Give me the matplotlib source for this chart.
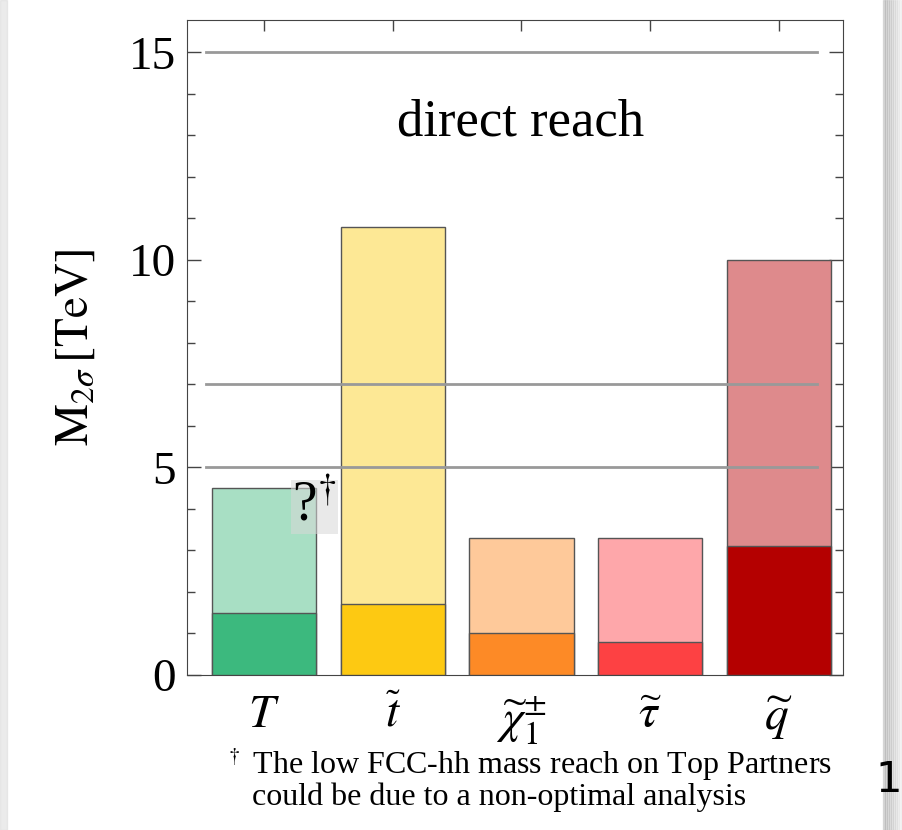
import numpy as np
import matplotlib.pyplot as plt
from matplotlib.patches import Rectangle

plt.rcParams['mathtext.fontset'] = 'stix'
plt.rcParams['font.family'] = ['Liberation Serif', 'DejaVu Serif']

particles = [r'$T$', r'$\widetilde{t}$', r'$\widetilde{\chi}_1^{\pm}$', r'$\widetilde{\tau}$', r'$\widetilde{q}$']
hl_lhc_reach = [1.5, 1.7, 1.0, 0.8, 3.1]
fcc_reach = [4.5, 10.8, 3.3, 3.3, 10.0]
light_colors = ['#a8dfc4', '#fde895', '#fec99a', '#fea7aa', '#de8a8c']
dark_colors = ['#3cb97e', '#fdc912', '#fd8a26', '#fd4143', '#b40000']
ref_lines = [15, 7, 5]

fig = plt.figure(figsize=(9.03, 8.30), dpi=100)

# slide frame with a soft shadow on the right
for i, a in enumerate(np.linspace(0.3, 0.03, 10)):
    fig.patches.append(Rectangle((0.978 + i * 0.0022, 0.0), 0.0022, 1.0, transform=fig.transFigure,
                                 color='0.6', alpha=a, zorder=0))
fig.patches.append(Rectangle((0.0, 0.0), 0.008, 1.0, transform=fig.transFigure,
                             color='0.85', alpha=0.5, zorder=0))

ax = fig.add_axes([0.207, 0.187, 0.7266, 0.789])
x = np.arange(len(particles))

ax.bar(x, fcc_reach, width=0.81, color=light_colors, edgecolor='#555555', linewidth=1, zorder=2)
ax.bar(x, hl_lhc_reach, width=0.81, color=dark_colors, edgecolor='#555555', linewidth=1, zorder=3)

for y in ref_lines:
    ax.plot([-0.45, 4.3], [y, y], color='#999999', lw=2, zorder=4)

ax.text(1.99, 13.3, 'direct reach', fontsize=38, ha='center', va='center')
ax.text(0.39, 4.05, r'?$^{\dagger}$', fontsize=40, ha='center', va='center', zorder=5,
        bbox=dict(boxstyle='square,pad=0.02', facecolor='#d8d8d8', edgecolor='none', alpha=0.55))

ax.set_xlim(-0.6, 4.5)
ax.set_ylim(0, 15.78)
ax.set_xticks(x)
ax.set_xticklabels(particles, fontsize=34)
ax.set_yticks([0, 5, 10, 15])
ax.set_yticks(np.arange(0, 16, 1), minor=True)
ax.tick_params(axis='y', which='major', direction='in', length=10, width=1, labelsize=34,
               right=True, color='#444444', pad=8)
ax.tick_params(axis='y', which='minor', direction='in', length=6, width=1, right=True, color='#444444')
ax.tick_params(axis='x', direction='in', length=8, width=1, top=True, color='#444444', pad=14)
for s in ax.spines.values():
    s.set_color('#444444')
ax.set_ylabel(r'$\mathrm{M}_{2\sigma}\,[\mathrm{TeV}]$', fontsize=34, labelpad=22)

fig.text(0.249, 0.079, r'$^\dagger$ The low FCC-hh mass reach on Top Partners', fontsize=23, va='center')
fig.text(0.279, 0.039, 'could be due to a non-optimal analysis', fontsize=23, va='center')
fig.text(0.970, 0.06, '1', fontsize=30, family='DejaVu Sans', ha='left', va='center')

fig.savefig('out.png', dpi=100)
